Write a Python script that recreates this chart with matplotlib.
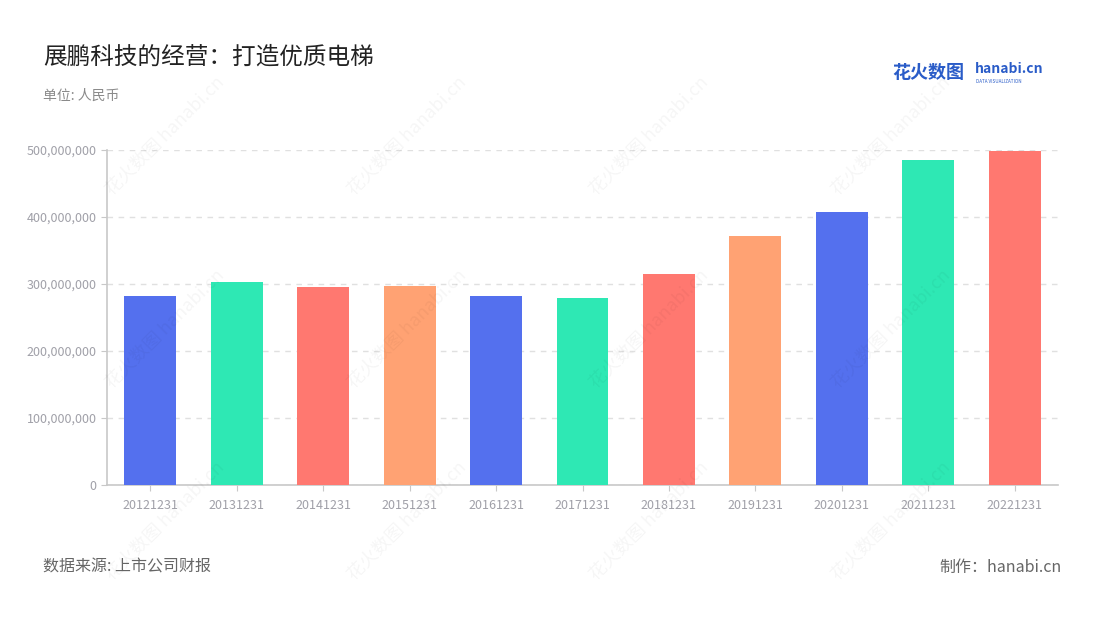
import matplotlib
matplotlib.use('Agg')
import matplotlib.pyplot as plt
from matplotlib.ticker import FuncFormatter

plt.rcParams['font.family'] = ['Noto Sans CJK SC', 'DejaVu Sans']

# data
dates = ['20121231', '20131231', '20141231', '20151231', '20161231', '20171231',
         '20181231', '20191231', '20201231', '20211231', '20221231']
values = [282e6, 303e6, 295.5e6, 297e6, 282e6, 279e6, 315e6, 372e6, 407e6, 485e6, 498.5e6]
palette = ['#5470ee', '#2ee8b4', '#ff7870', '#ffa273']

fig = plt.figure(figsize=(11, 6.2), dpi=100)
ax = fig.add_axes([0.0973, 0.2177, 0.8645, 0.5403])

colors = [palette[i % 4] for i in range(len(values))]
x = list(range(len(values)))
ax.bar(x, values, width=0.6, color=colors, zorder=3)

ax.set_xlim(-0.5, len(values) - 0.5)
ax.set_ylim(0, 500e6)
ax.set_yticks([0, 100e6, 200e6, 300e6, 400e6, 500e6])
ax.yaxis.set_major_formatter(FuncFormatter(lambda v, p: '{:,.0f}'.format(v)))
ax.set_xticks(x)
ax.set_xticklabels(dates)

ax.grid(axis='y', color='#e0e0e0', linestyle=(0, (4, 4)), linewidth=1, zorder=0)
for s in ['top', 'right']:
    ax.spines[s].set_visible(False)
for s in ['left', 'bottom']:
    ax.spines[s].set_color('#c8c8c8')
    ax.spines[s].set_linewidth(1.2)
ax.tick_params(axis='both', colors='#c8c8c8', labelcolor='#a0a0a8', labelsize=9, length=4)
ax.tick_params(axis='x', pad=6)

# titles
fig.text(0.039, 0.908, '展鹏科技的经营：打造优质电梯', fontsize=17, color='#222222', va='center')
fig.text(0.039, 0.845, '单位: 人民币', fontsize=10, color='#8a8a8a', va='center')
fig.text(0.039, 0.085, '数据来源: 上市公司财报', fontsize=11.5, color='#666666', va='center')
fig.text(0.965, 0.085, '制作：hanabi.cn', fontsize=11.5, color='#666666', va='center', ha='right')

# logo
fig.text(0.811, 0.883, '花火数图', fontsize=13, color='#2a5cc8', fontweight='bold', va='center')
fig.text(0.886, 0.888, 'hanabi.cn', fontsize=10, color='#2a5cc8', fontweight='bold', va='center')
fig.text(0.887, 0.869, 'DATA VISUALIZATION', fontsize=3.3, color='#2a5cc8', va='center')

# faint watermarks
for wx in [0.15, 0.37, 0.59, 0.81]:
    for wy in [0.78, 0.47, 0.16]:
        fig.text(wx, wy, '花火数图 hanabi.cn', fontsize=13, color='#000000', alpha=0.04,
                 rotation=45, ha='center', va='center', zorder=10)

fig.savefig('out.png', dpi=100)
